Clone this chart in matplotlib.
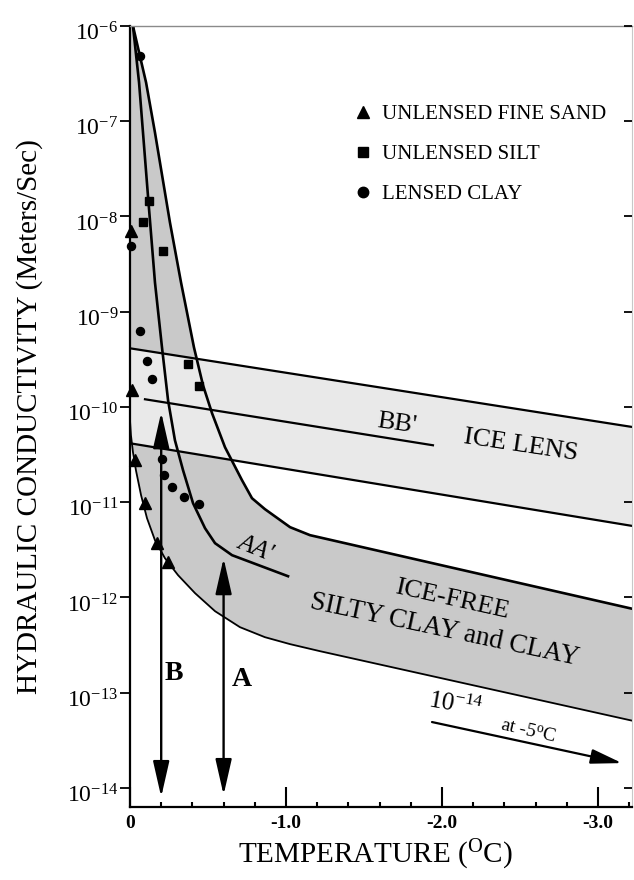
import numpy as np
import matplotlib
matplotlib.use("Agg")
import matplotlib.pyplot as plt
from matplotlib.lines import Line2D
from matplotlib.ticker import MultipleLocator, NullLocator
from matplotlib.transforms import ScaledTranslation

plt.rcParams['font.family'] = ['Liberation Serif', 'DejaVu Serif']
plt.rcParams['mathtext.fontset'] = 'custom'
plt.rcParams['mathtext.rm'] = 'Liberation Serif'
plt.rcParams['mathtext.it'] = 'Liberation Serif:italic'
plt.rcParams['mathtext.bf'] = 'Liberation Serif:bold'

# ---------------- data (temperature in degC, log10 of K in m/s) ----------------
upper_T = [-0.019, -0.103, -0.160, -0.256, -0.327, -0.410, -0.468, -0.526, -0.609,
           -0.718, -0.782, -0.865, -1.026, -1.154, -2.051, -3.231]
upper_logK = [-6.000, -6.593, -7.118, -8.062, -8.692, -9.374, -9.772, -10.066, -10.423,
              -10.769, -10.958, -11.073, -11.262, -11.346, -11.682, -12.123]

mid_T = [-0.019, -0.058, -0.115, -0.160, -0.205, -0.244, -0.288, -0.340, -0.404,
         -0.481, -0.545, -0.654, -1.013]
mid_logK = [-6.000, -6.593, -7.779, -8.692, -9.374, -9.930, -10.349, -10.664, -11.010,
            -11.273, -11.430, -11.556, -11.777]

lower_T = [0.0, -0.006, -0.019, -0.038, -0.071, -0.109, -0.160, -0.224, -0.308,
           -0.417, -0.545, -0.705, -0.865, -1.026, -1.218, -3.231]
lower_logK = [-10.140, -10.297, -10.475, -10.664, -10.927, -11.168, -11.399, -11.588, -11.766,
              -11.955, -12.144, -12.312, -12.417, -12.490, -12.564, -13.298]

lens_top_T = [0.0, -3.231]
lens_top_logK = [-9.384, -10.213]
lens_bot_T = [0.0, -3.231]
lens_bot_logK = [-10.381, -11.252]
bb_T = [-0.096, -1.942]
bb_logK = [-9.919, -10.402]

sand_T = [-0.006, -0.013, -0.032, -0.096, -0.173, -0.244]
sand_logK = [-8.156, -9.825, -10.559, -11.010, -11.430, -11.630]
silt_T = [-0.083, -0.122, -0.212, -0.372, -0.442]
silt_logK = [-8.062, -7.842, -8.366, -9.552, -9.783]
clay_T = [-0.064, -0.006, -0.064, -0.109, -0.141, -0.205, -0.218, -0.269, -0.346, -0.442]
clay_logK = [-6.310, -8.314, -9.206, -9.520, -9.709, -10.549, -10.717, -10.843, -10.948, -11.021]

arrow_B_T, arrow_B_logK = -0.2, [-10.056, -14.095]
arrow_A_T, arrow_A_logK = -0.6, [-11.588, -14.074]
arrow_cold_T = [-1.936, -3.154]
arrow_cold_logK = [-13.308, -13.739]

y_exponents = [-6, -7, -8, -9, -10, -11, -12, -13, -14]
x_major = [0.0, -1.0, -2.0, -3.0]
x_labels = ['0', '-1.0', '-2.0', '-3.0']
legend_labels = ['UNLENSED FINE SAND', 'UNLENSED SILT', 'LENSED CLAY']

# ---------------- figure ----------------
W, H = 634, 880
fig = plt.figure(figsize=(W / 100, H / 100), dpi=100)
ax = fig.add_axes([130 / W, (H - 807) / H, 502 / W, 781 / H])
ax.set_yscale('log')
ax.set_ylim(10 ** -14.2, 1e-6)
ax.set_xlim(0, -3.218)

p = lambda a: np.power(10.0, np.asarray(a))

DARK = '#c9c9c9'
LIGHT = '#e9e9e9'

# dark grey envelope (apex -> upper curve -> lower curve back -> spine)
poly_T = list(upper_T) + list(lower_T[::-1]) + [0.0]
poly_L = list(upper_logK) + list(lower_logK[::-1]) + [-6.0]
ax.fill(poly_T, p(poly_L), color=DARK, lw=0, zorder=1)

# ice-lens band
lens_T = list(lens_top_T) + list(lens_bot_T[::-1])
lens_L = list(lens_top_logK) + list(lens_bot_logK[::-1])
ax.fill(lens_T, p(lens_L), color=LIGHT, lw=0, zorder=2)

# lines
ax.plot(upper_T, p(upper_logK), color='black', lw=1.9, zorder=3, solid_joinstyle='round')
ax.plot(mid_T, p(mid_logK), color='black', lw=1.9, zorder=3, solid_joinstyle='round')
ax.plot(lower_T, p(lower_logK), color='black', lw=1.3, zorder=3, solid_joinstyle='round')
ax.plot(lens_top_T, p(lens_top_logK), color='black', lw=1.6, zorder=3)
ax.plot(lens_bot_T, p(lens_bot_logK), color='black', lw=1.6, zorder=3)
ax.plot(bb_T, p(bb_logK), color='black', lw=1.6, zorder=3)

# data points
ax.plot(sand_T, p(sand_logK), '^', color='black', ms=8.5, zorder=4, clip_on=False)
ax.plot(silt_T, p(silt_logK), 's', color='black', ms=6.3, zorder=4, clip_on=False)
ax.plot(clay_T, p(clay_logK), 'o', color='black', ms=5.8, zorder=4, clip_on=False)

# arrows A and B
for T, L in ((arrow_B_T, arrow_B_logK), (arrow_A_T, arrow_A_logK)):
    ax.annotate('', xy=(T, p(L[0])), xytext=(T, p(L[1])),
                arrowprops=dict(arrowstyle='<|-|>,head_length=2.2,head_width=0.5',
                                color='black', lw=1.7, shrinkA=0, shrinkB=0,
                                mutation_scale=10), zorder=5)
ax.annotate('', xy=(arrow_cold_T[1], p(arrow_cold_logK[1])),
            xytext=(arrow_cold_T[0], p(arrow_cold_logK[0])),
            arrowprops=dict(arrowstyle='-|>,head_length=1.9,head_width=0.45',
                            color='black', lw=1.6, shrinkA=0, shrinkB=0,
                            mutation_scale=10), zorder=5)

# annotations
tk = dict(ha='center', va='center', rotation_mode='anchor', zorder=6)
ax.text(-2.506, p(-10.402), 'ICE LENS', fontsize=19, rotation=-8.5, **tk)
ax.text(-1.712, p(-10.182), "BB'", fontsize=19, rotation=-8, **tk)
ax.text(-0.801, p(-11.483), "AA'", fontsize=18, style='italic', rotation=-22, **tk)
ax.text(-2.064, p(-12.028), 'ICE-FREE', fontsize=19, rotation=-12.5, **tk)
ax.text(-2.019, p(-12.343), 'SILTY CLAY and CLAY', fontsize=19.5, rotation=-12, **tk)
ax.text(-0.282, p(-12.794), 'B', fontsize=20, fontweight='bold', **tk)
ax.text(-0.718, p(-12.857), 'A', fontsize=20, fontweight='bold', **tk)
ax.text(-2.083, p(-13.130), r'$\mathit{10}^{\mathit{-14}}$', fontsize=18, rotation=-10, **tk)
ax.text(-2.551, p(-13.403), r'at -5$^{\rm o}$C', fontsize=14, rotation=-13, **tk)

# legend
handles = [Line2D([], [], ls='none', marker='^', color='black', ms=9),
           Line2D([], [], ls='none', marker='s', color='black', ms=7.5),
           Line2D([], [], ls='none', marker='o', color='black', ms=7.5)]
ax.legend(handles, legend_labels, loc='upper left', bbox_to_anchor=(0.4434, 0.8995),
          frameon=False, fontsize=15, borderpad=0, borderaxespad=0,
          handlelength=1.0, handletextpad=0.4, labelspacing=0.99)

# axes styling
ax.spines['left'].set_linewidth(1.6)
ax.spines['bottom'].set_linewidth(1.6)
ax.spines['top'].set_linewidth(1.0)
ax.spines['top'].set_color('#8a8a8a')
ax.spines['right'].set_linewidth(0.8)
ax.spines['right'].set_color('#c8c8c8')
for s in ax.spines.values():
    s.set_zorder(7)

ax.set_xticks(x_major)
ax.set_xticklabels(x_labels, fontweight='bold', fontsize=14)
ax.xaxis.set_minor_locator(MultipleLocator(0.2))
ax.tick_params(axis='x', which='major', direction='in', length=14.4, width=1.5, pad=6, top=False)
ax.tick_params(axis='x', which='minor', direction='in', length=3.6, width=1.5, top=False)

ax.set_yticks([10.0 ** e for e in y_exponents])
ax.set_yticklabels([r'$10^{%d}$' % e for e in y_exponents], fontsize=17)
ax.yaxis.set_minor_locator(NullLocator())
ax.tick_params(axis='y', which='major', direction='out', length=7, width=1.3, pad=1.5)
off = ScaledTranslation(0, -4 / 72, fig.dpi_scale_trans)
for lab in ax.get_yticklabels():
    lab.set_transform(lab.get_transform() + off)

ax2 = ax.twinx()
ax2.set_yscale('log')
ax2.set_ylim(ax.get_ylim())
ax2.set_yticks([10.0 ** e for e in y_exponents])
ax2.yaxis.set_minor_locator(NullLocator())
ax2.tick_params(axis='y', which='major', direction='in', length=6, width=1.3, labelright=False)
for s in ax2.spines.values():
    s.set_visible(False)

ax.set_ylabel('HYDRAULIC CONDUCTIVITY (Meters/Sec)', fontsize=21)
ax.yaxis.set_label_coords(-0.173, 0.5)
ax.set_xlabel(r'TEMPERATURE ($^{\mathrm{O}}$C)', fontsize=21)
ax.xaxis.set_label_coords(0.488, -0.0397)

fig.savefig('out.png', dpi=100)
